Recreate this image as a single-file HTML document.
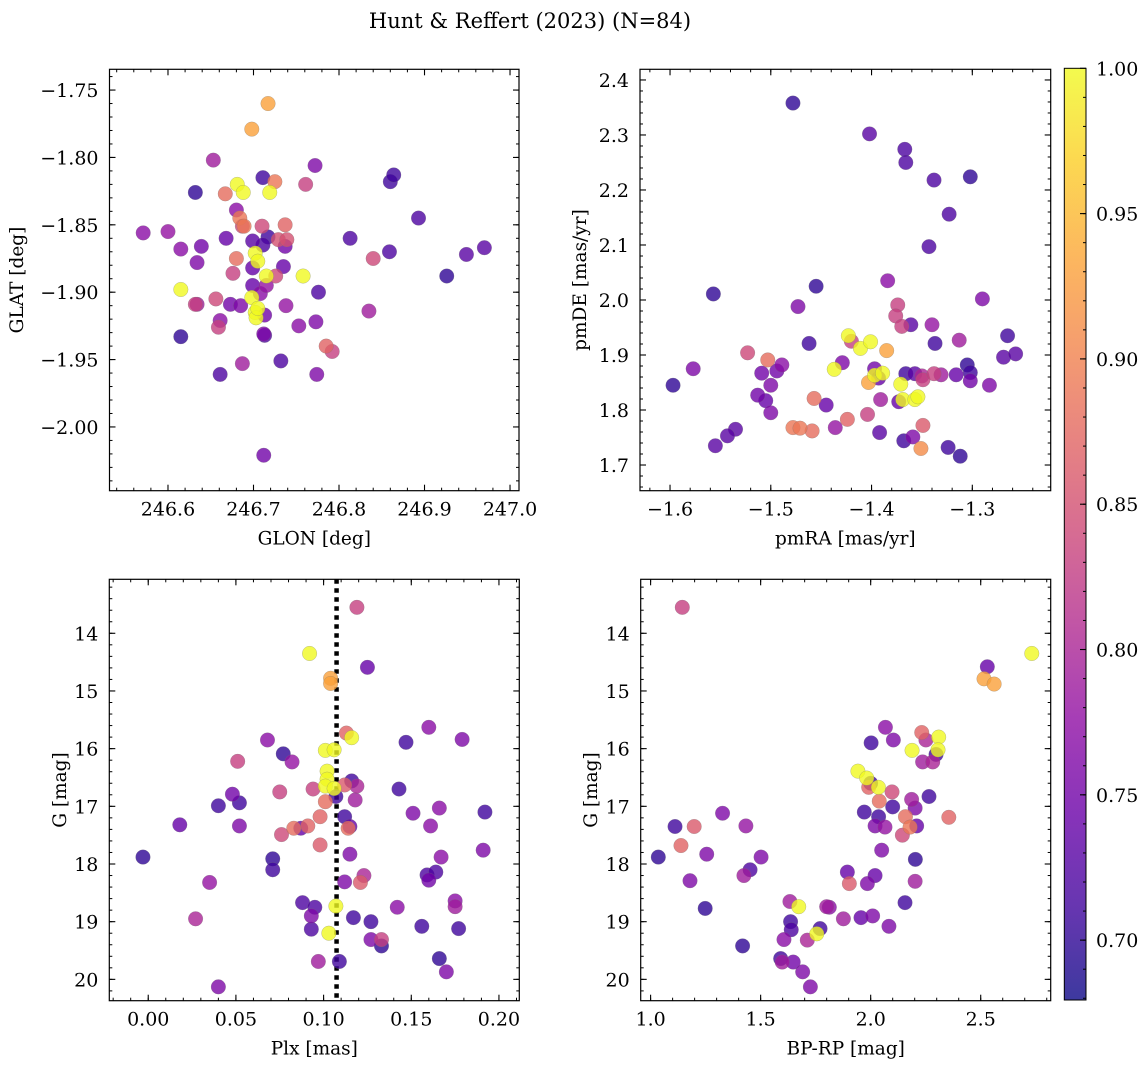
<!DOCTYPE html>
<html><head><meta charset="utf-8"><style>
html,body{margin:0;padding:0;background:#fff;}
svg{display:block;font-family:"DejaVu Serif","Liberation Serif",serif;}
</style></head><body>
<svg id="fig" width="1148" height="1068" viewBox="0 0 1148 1068" xmlns="http://www.w3.org/2000/svg">
<text x="530" y="28" font-size="21" text-anchor="middle">Hunt &amp; Reffert (2023) (N=84)</text>
</svg>
<script>
// ---------- Panel 1: GLON vs GLAT ----------
const p1Glon=[246.571,246.600,246.615,246.632,246.634,246.639,246.615,246.615,246.632,246.634,246.653,246.656,246.659,246.661,246.667,246.668,246.673,246.676,246.680,246.680,246.681,246.684,246.685,246.687,246.688,246.689,246.687,246.661,246.698,246.698,246.699,246.699,246.702,246.699,246.702,246.703,246.705,246.705,246.708,246.710,246.711,246.711,246.712,246.713,246.715,246.713,246.715,246.712,246.717,246.719,246.725,246.717,246.729,246.726,246.732,246.735,246.737,246.737,246.738,246.739,246.753,246.758,246.761,246.772,246.773,246.776,246.774,246.785,246.792,246.813,246.835,246.840,246.859,246.860,246.864,246.893,246.926,246.949,246.970];
const p1Glat=[-1.856,-1.855,-1.868,-1.826,-1.878,-1.866,-1.898,-1.933,-1.909,-1.909,-1.802,-1.905,-1.926,-1.921,-1.827,-1.860,-1.909,-1.886,-1.875,-1.839,-1.820,-1.845,-1.910,-1.851,-1.826,-1.851,-1.953,-1.961,-1.779,-1.904,-1.882,-1.862,-1.871,-1.895,-1.915,-1.919,-1.912,-1.877,-1.901,-1.851,-1.815,-1.865,-1.931,-1.917,-1.888,-1.932,-1.895,-2.021,-1.760,-1.826,-1.818,-1.859,-1.861,-1.888,-1.951,-1.881,-1.850,-1.866,-1.910,-1.861,-1.925,-1.888,-1.820,-1.806,-1.922,-1.900,-1.961,-1.940,-1.944,-1.860,-1.914,-1.875,-1.870,-1.818,-1.813,-1.845,-1.888,-1.872,-1.867];
const p1Prob=[0.77,0.78,0.77,0.70,0.76,0.75,1.0,0.70,0.83,0.79,0.79,0.84,0.83,0.77,0.88,0.74,0.75,0.83,0.88,0.77,1.0,0.89,0.76,0.84,1.0,0.89,0.79,0.72,0.93,1.0,0.74,0.73,1.0,0.74,1.0,1.0,1.0,1.0,0.77,0.84,0.71,0.72,0.76,0.75,1.0,0.72,0.78,0.75,0.93,1.0,0.89,0.71,0.85,0.84,0.72,0.74,0.87,0.75,0.78,0.85,0.77,1.0,0.83,0.76,0.76,0.72,0.76,0.87,0.83,0.72,0.79,0.84,0.72,0.71,0.71,0.72,0.70,0.73,0.73];

// ---------- Panel 2: pmRA vs pmDE ----------
const p2PmRA=[-1.478,-1.402,-1.367,-1.366,-1.338,-1.302,-1.323,-1.343,-1.557,-1.455,-1.384,-1.290,-1.473,-1.374,-1.376,-1.370,-1.361,-1.340,-1.265,-1.462,-1.423,-1.420,-1.411,-1.401,-1.385,-1.337,-1.313,-1.269,-1.257,-1.523,-1.503,-1.577,-1.597,-1.509,-1.494,-1.489,-1.500,-1.513,-1.505,-1.500,-1.429,-1.437,-1.397,-1.397,-1.389,-1.393,-1.403,-1.366,-1.357,-1.350,-1.349,-1.338,-1.331,-1.316,-1.305,-1.302,-1.302,-1.283,-1.371,-1.369,-1.373,-1.357,-1.354,-1.391,-1.457,-1.445,-1.404,-1.424,-1.436,-1.478,-1.471,-1.459,-1.349,-1.392,-1.359,-1.368,-1.351,-1.324,-1.312,-1.535,-1.543,-1.555];
const p2PmDE=[2.358,2.302,2.274,2.250,2.218,2.224,2.156,2.097,2.011,2.025,2.035,2.002,1.988,1.991,1.971,1.952,1.955,1.955,1.935,1.921,1.935,1.925,1.912,1.924,1.908,1.921,1.927,1.896,1.902,1.904,1.891,1.875,1.845,1.867,1.871,1.882,1.845,1.827,1.817,1.795,1.886,1.874,1.875,1.863,1.867,1.858,1.850,1.866,1.866,1.862,1.855,1.866,1.864,1.864,1.882,1.868,1.853,1.845,1.847,1.819,1.815,1.819,1.824,1.819,1.821,1.809,1.792,1.783,1.768,1.768,1.767,1.762,1.772,1.759,1.751,1.744,1.730,1.732,1.716,1.765,1.753,1.735];
const p2Prob=[0.70,0.73,0.72,0.72,0.72,0.70,0.72,0.72,0.70,0.70,0.77,0.76,0.76,0.83,0.83,0.83,0.73,0.78,0.71,0.71,1.0,0.83,1.0,1.0,0.93,0.71,0.79,0.73,0.73,0.84,0.88,0.76,0.70,0.75,0.75,0.77,0.76,0.75,0.74,0.76,0.76,1.0,0.75,1.0,1.0,0.74,0.93,0.71,0.73,0.80,0.83,0.83,0.79,0.74,0.70,0.71,0.75,0.76,1.0,1.0,0.74,1.0,1.0,0.79,0.88,0.74,0.83,0.87,0.78,0.89,0.89,0.88,0.86,0.73,0.76,0.71,0.91,0.71,0.70,0.73,0.73,0.73];

// ---------- Panel 3: Plx vs G ----------
const p3Plx=[-0.003,0.018,0.027,0.035,0.040,0.040,0.048,0.052,0.052,0.051,0.068,0.077,0.082,0.071,0.071,0.075,0.076,0.083,0.087,0.091,0.094,0.092,0.088,0.095,0.093,0.093,0.097,0.098,0.098,0.101,0.101,0.106,0.102,0.102,0.101,0.106,0.103,0.107,0.104,0.104,0.107,0.112,0.113,0.116,0.112,0.115,0.114,0.116,0.119,0.118,0.115,0.112,0.121,0.123,0.119,0.125,0.117,0.109,0.127,0.133,0.127,0.133,0.142,0.143,0.147,0.151,0.156,0.160,0.161,0.159,0.160,0.164,0.166,0.167,0.166,0.170,0.175,0.175,0.177,0.179,0.192,0.191];
const p3G=[17.88,17.32,18.95,18.32,16.99,20.13,16.79,16.94,17.34,16.22,15.85,16.09,16.23,17.91,18.10,16.75,17.49,17.38,17.38,17.34,16.70,14.35,18.67,18.75,18.90,19.13,19.69,17.18,17.67,16.92,16.03,16.02,16.39,16.53,16.65,16.69,19.20,18.73,14.78,14.87,16.83,16.63,15.73,15.81,17.18,17.35,17.38,16.56,16.65,16.89,17.83,18.31,18.32,18.20,13.55,14.59,18.93,19.69,19.00,19.42,19.31,19.31,18.75,16.70,15.89,17.12,19.08,15.63,17.34,18.19,18.28,18.14,17.03,17.88,19.64,19.87,18.64,18.74,19.12,15.84,17.10,17.76];
const p3Prob=[0.70,0.74,0.80,0.78,0.71,0.76,0.75,0.71,0.76,0.83,0.77,0.70,0.78,0.70,0.71,0.83,0.84,0.88,0.74,0.87,0.83,1.0,0.72,0.72,0.76,0.72,0.79,0.87,0.86,0.88,1.0,1.0,1.0,1.0,1.0,1.0,1.0,1.0,0.93,0.93,0.71,0.86,0.87,1.0,0.71,0.74,0.88,0.71,0.80,0.79,0.76,0.76,0.86,0.80,0.83,0.74,0.71,0.71,0.71,0.70,0.76,0.83,0.77,0.71,0.71,0.76,0.71,0.77,0.77,0.72,0.75,0.72,0.77,0.77,0.70,0.76,0.77,0.79,0.71,0.76,0.71,0.76];

// ---------- Panel 4: BP-RP vs G ----------
const p4Color=[1.144,2.732,2.530,2.515,2.561,2.067,2.232,2.309,2.251,2.103,2.002,2.188,2.306,2.297,2.236,2.282,1.942,1.982,2.000,1.991,2.035,2.097,2.039,2.186,2.202,2.265,2.100,1.971,2.036,2.158,2.020,2.065,2.179,2.209,2.144,2.355,2.050,2.203,1.894,2.020,1.985,1.903,2.202,2.156,1.633,1.673,1.800,1.812,1.876,1.956,2.009,2.083,1.636,1.639,1.770,1.755,1.712,1.606,1.591,1.598,1.648,1.691,1.726,1.418,1.248,1.179,1.035,1.138,1.255,1.111,1.198,1.327,1.433,1.502,1.452,1.424];
const p4G=[13.55,14.35,14.58,14.79,14.88,15.63,15.72,15.80,15.85,15.85,15.90,16.03,16.02,16.10,16.23,16.23,16.39,16.51,16.60,16.67,16.67,16.75,16.91,16.88,17.03,16.83,17.01,17.10,17.18,17.18,17.34,17.36,17.36,17.34,17.50,17.19,17.76,17.92,18.14,18.20,18.34,18.34,18.30,18.67,18.65,18.74,18.74,18.75,18.95,18.93,18.90,19.08,19.00,19.14,19.12,19.21,19.32,19.31,19.64,19.70,19.70,19.87,20.13,19.42,18.77,18.29,17.88,17.68,17.83,17.35,17.35,17.12,17.34,17.88,18.10,18.20];
const p4Prob=[0.83,1.0,0.74,0.93,0.93,0.77,0.87,1.0,0.80,0.76,0.71,1.0,1.0,0.71,0.79,0.80,1.0,1.0,0.71,0.87,1.0,0.84,0.88,0.79,0.76,0.71,0.71,0.71,0.71,0.88,0.76,0.78,0.89,0.74,0.84,0.87,0.76,0.70,0.74,0.74,0.76,0.86,0.79,0.71,0.79,1.0,0.79,0.77,0.79,0.74,0.76,0.76,0.71,0.72,0.71,1.0,0.80,0.77,0.71,0.79,0.75,0.76,0.76,0.70,0.70,0.76,0.70,0.87,0.76,0.71,0.86,0.76,0.78,0.76,0.72,0.79];

// colour scale
const cbTicks=[0.70,0.75,0.80,0.85,0.90,0.95,1.00];
const VMIN=0.6794, VMAX=1.0;
const plasma=["#0d0887","#41049d","#6a00a8","#8f0da4","#b12a90","#cc4778","#e16462","#f2844b","#fca636","#fcce25","#f0f921"];
function hex(c){return [parseInt(c.slice(1,3),16),parseInt(c.slice(3,5),16),parseInt(c.slice(5,7),16)];}
function cmap(v){let t=(v-VMIN)/(VMAX-VMIN);t=Math.max(0,Math.min(1,t));const f=t*10;const i=Math.min(9,Math.floor(f));const u=f-i;const a=hex(plasma[i]),b=hex(plasma[i+1]);return "rgb("+a.map((x,k)=>Math.round(x+(b[k]-x)*u)).join(",")+")";}

const NS="http://www.w3.org/2000/svg";
const svg=document.getElementById("fig");
const TF=19, LF=18.5;
function mk(tag,attrs,parent){const e=document.createElementNS(NS,tag);for(const k in attrs)e.setAttribute(k,attrs[k]);(parent||svg).appendChild(e);return e;}
function fmt(v,d){const s=Math.abs(v).toFixed(d);return (v<-1e-9?"\u2212":"")+s;}

function panel(c){
  const g=mk("g",{});
  
  
  const sx=v=>c.L+(v-c.x0)/(c.x1-c.x0)*(c.R-c.L);
  const sy=v=>c.B-(v-c.y0)/(c.y1-c.y0)*(c.B-c.T);
  const frame=mk("rect",{x:c.L,y:c.T,width:c.R-c.L,height:c.B-c.T,fill:"none",stroke:"#000","stroke-width":1.2},g);
  
  
  const eps=1e-9;
  for(let v=Math.ceil((Math.min(c.x0,c.x1))/c.xm-eps)*c.xm; v<=Math.max(c.x0,c.x1)+eps; v+=c.xm){
    const x=sx(v); if(x<c.L+0.5||x>c.R-0.5) continue;
    mk("line",{x1:x,x2:x,y1:c.B,y2:c.B-3,stroke:"#000","stroke-width":1},g);
    mk("line",{x1:x,x2:x,y1:c.T,y2:c.T+3,stroke:"#000","stroke-width":1},g);
  }
  for(let v=Math.ceil((Math.min(c.y0,c.y1))/c.ym-eps)*c.ym; v<=Math.max(c.y0,c.y1)+eps; v+=c.ym){
    const y=sy(v); if(y<c.T+0.5||y>c.B-0.5) continue;
    mk("line",{x1:c.L,x2:c.L+3,y1:y,y2:y,stroke:"#000","stroke-width":1},g);
    mk("line",{x1:c.R,x2:c.R-3,y1:y,y2:y,stroke:"#000","stroke-width":1},g);
  }
  c.xt.forEach(v=>{const x=sx(v);
    mk("line",{x1:x,x2:x,y1:c.B,y2:c.B-6,stroke:"#000","stroke-width":1.1},g);
    mk("line",{x1:x,x2:x,y1:c.T,y2:c.T+6,stroke:"#000","stroke-width":1.1},g);
    const t=mk("text",{x:x,y:c.B+25,"font-size":TF,"text-anchor":"middle"},g);t.textContent=fmt(v,c.xd);
    
    
  });
  c.yt.forEach(v=>{const y=sy(v);
    mk("line",{x1:c.L,x2:c.L+6,y1:y,y2:y,stroke:"#000","stroke-width":1.1},g);
    mk("line",{x1:c.R,x2:c.R-6,y1:y,y2:y,stroke:"#000","stroke-width":1.1},g);
    const t=mk("text",{x:c.L-11,y:y+7,"font-size":TF,"text-anchor":"end"},g);t.textContent=fmt(v,c.yd);
    
    
  });
  const xl=mk("text",{x:(c.L+c.R)/2,y:c.B+54,"font-size":LF,"text-anchor":"middle"},g);xl.textContent=c.xlab;
  
  
  const yl=mk("text",{x:c.ylx,y:(c.T+c.B)/2,"font-size":LF,"text-anchor":"middle",transform:"rotate(-90 "+c.ylx+" "+((c.T+c.B)/2)+")"},g);yl.textContent=c.ylab;
  
  
  if(c.vline!==undefined){
    const vl=mk("line",{x1:sx(c.vline),x2:sx(c.vline),y1:c.T,y2:c.B,stroke:"#000","stroke-width":4.5,"stroke-dasharray":"4.5 4.5"},g);
    
    
  }
  const cp="clip-"+c.name;
  const cl=mk("clipPath",{id:cp},g);mk("rect",{x:c.L,y:c.T,width:c.R-c.L,height:c.B-c.T},cl);
  const pts=mk("g",{"clip-path":"url(#"+cp+")"},g);
  
  
  const idx=c.xs.map((_,i)=>i).sort((a,b)=>c.ps[a]-c.ps[b]);
  idx.forEach(i=>{
    const p=mk("circle",{cx:sx(c.xs[i]),cy:sy(c.ys[i]),r:7.3,fill:cmap(c.ps[i]),"fill-opacity":0.8,stroke:"#777","stroke-width":0.4,"stroke-opacity":0.6},pts);
    
    
  });
}

panel({name:"panel-glon-glat",L:109.5,R:519,T:69.3,B:490.7,x0:246.5316,x1:247.0105,y0:-2.0473,y1:-1.7346,xm:0.02,ym:0.01,
  xt:[246.6,246.7,246.8,246.9,247.0],xd:1,yt:[-1.75,-1.80,-1.85,-1.90,-1.95,-2.00],yd:2,
  xlab:"GLON [deg]",ylab:"GLAT [deg]",ylx:23,xs:p1Glon,ys:p1Glat,ps:p1Prob});
panel({name:"panel-pmra-pmde",L:640,R:1050.7,T:69.3,B:490.7,x0:-1.6298,x1:-1.2222,y0:1.6533,y1:2.4194,xm:0.02,ym:0.02,
  xt:[-1.6,-1.5,-1.4,-1.3],xd:1,yt:[1.7,1.8,1.9,2.0,2.1,2.2,2.3,2.4],yd:1,
  xlab:"pmRA [mas/yr]",ylab:"pmDE [mas/yr]",ylx:586,xs:p2PmRA,ys:p2PmDE,ps:p2Prob});
panel({name:"panel-plx-g",L:109.3,R:519.3,T:579.3,B:1000.7,x0:-0.0222,x1:0.2116,y0:20.370,y1:13.064,xm:0.01,ym:0.2,
  xt:[0,0.05,0.10,0.15,0.20],xd:2,yt:[14,15,16,17,18,19,20],yd:0,
  xlab:"Plx [mas]",ylab:"G [mag]",ylx:66,xs:p3Plx,ys:p3G,ps:p3Prob,vline:0.1074});
panel({name:"panel-bprp-g",L:640.7,R:1050.7,T:579.3,B:1000.7,x0:0.955,x1:2.818,y0:20.370,y1:13.064,xm:0.1,ym:0.2,
  xt:[1.0,1.5,2.0,2.5],xd:1,yt:[14,15,16,17,18,19,20],yd:0,
  xlab:"BP-RP [mag]",ylab:"G [mag]",ylx:597,xs:p4Color,ys:p4G,ps:p4Prob});

// colorbar
(function(){
  const L=1064.3,R=1086,T=68.3,B=1000;
  const g=mk("g",{});
  
  
  const defs=mk("defs",{},g);
  const lg=mk("linearGradient",{id:"cbgrad",x1:0,y1:1,x2:0,y2:0},defs);
  for(let k=0;k<=20;k++){const v=VMIN+(VMAX-VMIN)*k/20;mk("stop",{offset:(k/20),"stop-color":cmap(v),"stop-opacity":0.8},lg);}
  mk("rect",{x:L,y:T,width:R-L,height:B-T,fill:"url(#cbgrad)",stroke:"#000","stroke-width":1},g);
  const sy=v=>B-(v-VMIN)/(VMAX-VMIN)*(B-T);
  for(let v=0.68;v<=1.0001;v+=0.01){const y=sy(v);if(y<T+0.5||y>B-0.5)continue;mk("line",{x1:R,x2:R-3,y1:y,y2:y,stroke:"#000","stroke-width":1},g);}
  cbTicks.forEach(v=>{const y=sy(v);
    mk("line",{x1:R,x2:R-6,y1:y,y2:y,stroke:"#000","stroke-width":1.1},g);
    const t=mk("text",{x:R+10,y:y+7,"font-size":TF},g);t.textContent=v.toFixed(2);
    
    
  });
})();
</script>
</body></html>
